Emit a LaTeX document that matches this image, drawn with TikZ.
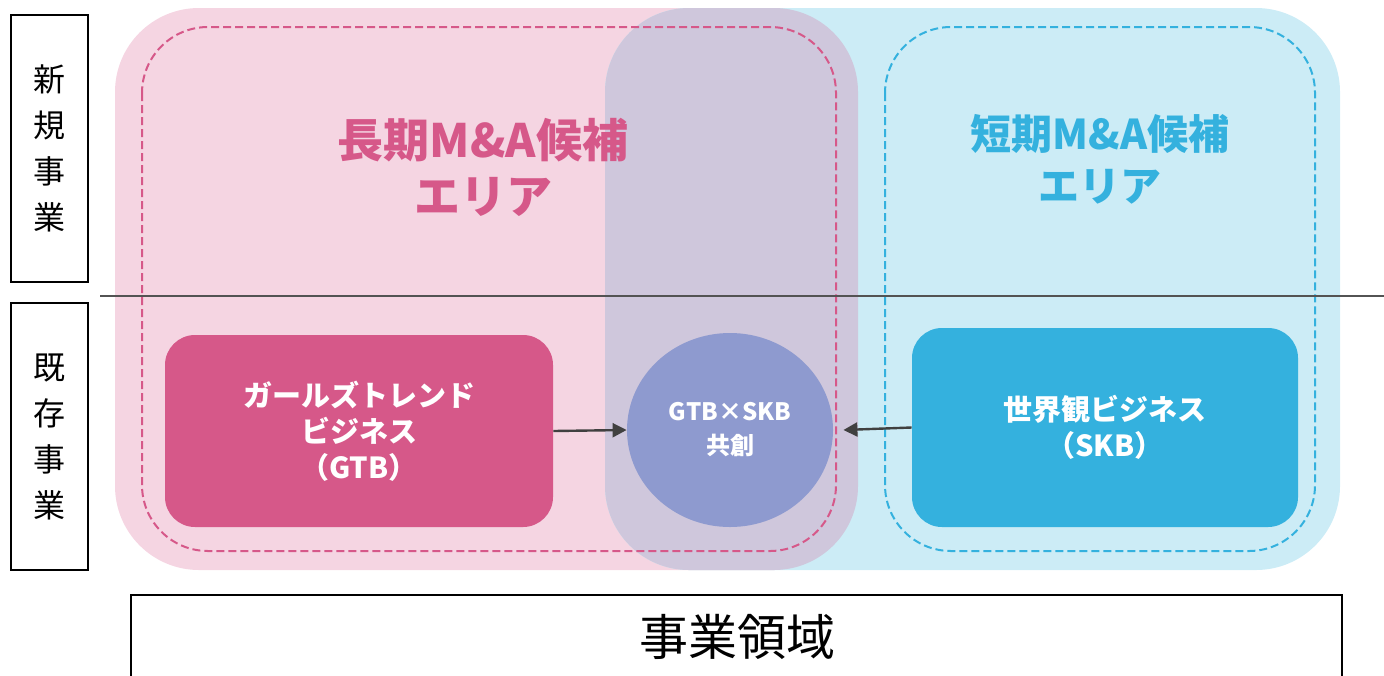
\documentclass[tikz,border=0pt]{standalone}
\usepackage{fontspec}
\setmainfont{Noto Sans CJK JP}
\usetikzlibrary{shapes.geometric,arrows.meta}
\definecolor{pinkarea}{HTML}{F5D5E2}
\definecolor{bluearea}{HTML}{CCECF6}
\definecolor{mixarea}{HTML}{CFC7DC}
\definecolor{gtbpink}{HTML}{D65889}
\definecolor{skbblue}{HTML}{34B1DE}
\definecolor{cocolor}{HTML}{8E9ACF}
\definecolor{arrowgray}{HTML}{404040}
\begin{document}
\begin{tikzpicture}[x=0.5pt,y=-0.5pt,>={Triangle[length=7pt,width=7pt]},
  sidebox/.style={draw=black,line width=1.4pt,minimum width=38.5pt,minimum height=133.5pt,
    align=center,font=\fontsize{16}{23}\selectfont},
  bizbox/.style={rounded corners=15pt,text=white,align=center,
    font=\bfseries\fontsize{14.5}{18}\selectfont},
  areatitle/.style={align=center,font=\bfseries\fontsize{23}{28}\selectfont},
  linkarrow/.style={->,draw=arrowgray,line width=1.2pt}]
\useasboundingbox (0,0) rectangle (1384,675);
% areas
\fill[pinkarea,rounded corners=42pt] (115,8) rectangle (858,570);
\fill[bluearea,rounded corners=42pt] (605,8) rectangle (1340,570);
\begin{scope}
\clip[rounded corners=42pt] (115,8) rectangle (858,570);
\fill[mixarea,rounded corners=42pt] (605,8) rectangle (1340,570);
\end{scope}
\draw[gtbpink,line width=1pt,dash pattern=on 4pt off 2pt,rounded corners=33pt] (142,27) rectangle (836,551);
\draw[skbblue,line width=1pt,dash pattern=on 4pt off 2pt,rounded corners=33pt] (885,27) rectangle (1315,551);
\draw[arrowgray!90,line width=1.4pt] (100,296) -- (1384,296);
% titles
\node[areatitle,text=gtbpink] (longterm) at (483,167) {長期M\&A候補\\エリア};
\node[areatitle,text=skbblue,font=\bfseries\fontsize{20.5}{26}\selectfont] (shortterm) at (1100,159) {短期M\&A候補\\エリア};
% rows
\node[sidebox] (newbiz) at (49.5,148.5) {新\\規\\事\\業};
\node[sidebox] (oldbiz) at (49.5,436.5) {既\\存\\事\\業};
% businesses
\node[bizbox,fill=gtbpink,minimum width=194pt,minimum height=96pt] (gtb) at (359,431) {ガールズトレンド\\ビジネス\\（GTB）};
\node[ellipse,fill=cocolor,text=white,align=center,minimum width=103pt,minimum height=97pt,
  font=\bfseries\fontsize{12}{17}\selectfont] (cocreate) at (730,430) {GTB×SKB\\共創};
\node[bizbox,fill=skbblue,minimum width=193pt,minimum height=99.5pt] (skb) at (1105,427.5) {世界観ビジネス\\（SKB）};
\draw[linkarrow] (gtb.east) -- (cocreate.west);
\draw[linkarrow] (skb.west) -- ([xshift=5pt]cocreate.east);
% domain
\draw[black,line width=1.4pt] (131,595) rectangle (1342,700);
\node[font=\fontsize{24.5}{28}\selectfont] (domain) at (737,637) {事業領域};
\end{tikzpicture}
\end{document}
